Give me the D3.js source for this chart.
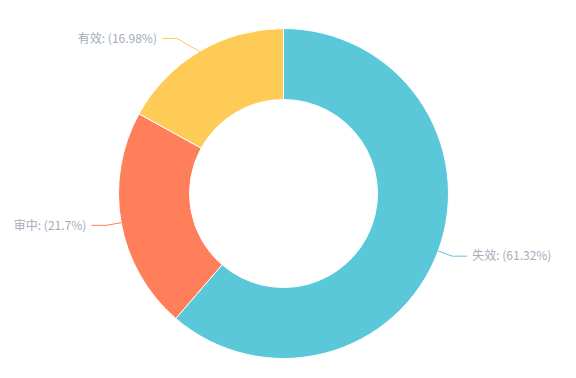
<!DOCTYPE html>
<html><head><meta charset="utf-8">
<script src="https://cdn.jsdelivr.net/npm/d3@7"></script>
<style>html,body{margin:0;padding:0;background:#fff;}</style>
</head><body>
<svg id="chart" width="576" height="378"></svg>
<script>
const categories = ["失效", "审中", "有效"];
const values = [61.32, 21.7, 16.98];
const colors = ["#5ac8d8", "#ff7f5a", "#fecb57"];

const W = 576, H = 378;
const cx = 283.5, cy = 193.5, rOuter = 165, rInner = 94;
const svg = d3.select("#chart");
const g = svg.append("g").attr("transform", `translate(${cx},${cy})`);

const pie = d3.pie().sort(null).value(d => d.v);
const data = categories.map((c, i) => ({c, v: values[i], col: colors[i]}));
const arcs = pie(data);
const arc = d3.arc().innerRadius(rInner).outerRadius(rOuter);

g.selectAll("path.slice").data(arcs).join("path")
  .attr("class", "slice")
  .attr("d", arc)
  .attr("fill", d => d.data.col)
  .attr("stroke", "#fff").attr("stroke-width", 1);

const len1 = 15, len2 = 15;
arcs.forEach(d => {
  const a = (d.startAngle + d.endAngle) / 2;
  const sx = Math.sin(a), sy = -Math.cos(a);
  const p0 = [rOuter * sx, rOuter * sy];
  const dir = sx >= 0 ? 1 : -1;
  // push the bend outward horizontally when the slice sits near the top
  const extra = Math.abs(sy) > 0.8 ? 15 : 0;
  const p1 = [(rOuter + len1) * sx + dir * extra, (rOuter + len1) * sy];
  const p2 = [p1[0] + dir * len2, p1[1]];
  g.append("polyline")
    .attr("points", [p0, p1, p2].map(p => p.join(",")).join(" "))
    .attr("fill", "none").attr("stroke", d.data.col).attr("stroke-width", 1);
  g.append("text")
    .attr("x", p2[0] + dir * 5).attr("y", p2[1])
    .attr("dy", "0.35em")
    .attr("text-anchor", dir > 0 ? "start" : "end")
    .attr("font-family", "'Noto Sans CJK SC', 'Noto Sans', sans-serif")
    .attr("font-size", 12)
    .attr("fill", "#a4adb9")
    .text(`${d.data.c}: (${d.data.v}%)`);
});
</script>
</body></html>
